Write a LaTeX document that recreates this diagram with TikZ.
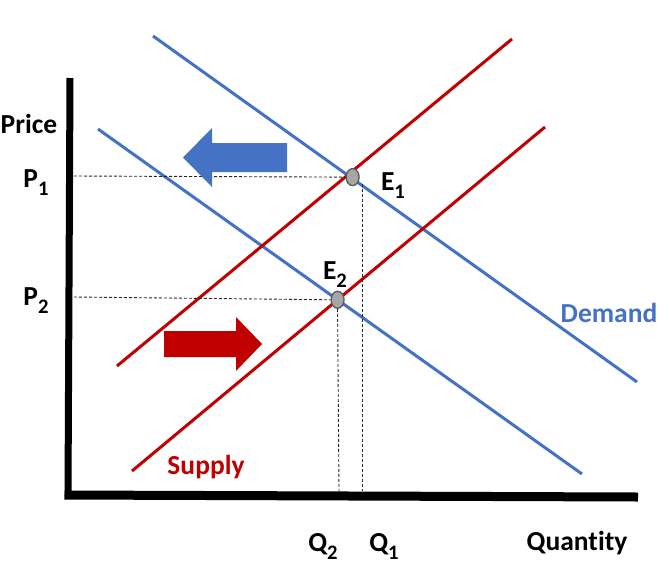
\documentclass[tikz,border=0pt]{standalone}
\usepackage{fontspec}
\setmainfont{Carlito}[Ligatures=NoCommon]
\usetikzlibrary{shapes.geometric,calc}
\definecolor{dblue}{HTML}{4472C4}
\definecolor{sred}{HTML}{C00000}
\newcommand\lowsub[1]{\raisebox{-0.3em}{\scalebox{0.75}{#1}}}
\tikzset{
  demandline/.style={draw=dblue,line width=3},
  supplyline/.style={draw=sred,line width=3},
  guide/.style={draw=black!85,line width=0.9,dash pattern=on 3 off 2},
  eqpoint/.style={ellipse,draw=black!65,fill=black!35,line width=1.3,minimum width=13,minimum height=17,inner sep=0},
  lbl/.style={font=\fontsize{27.5}{32}\selectfont\bfseries,anchor=base,inner sep=0},
  axisline/.style={draw=black}
}
\begin{document}
\begin{tikzpicture}[x=1pt,y=-1pt]
\useasboundingbox (0,0) rectangle (670,566);
% curve end points
\coordinate (d1a) at (153,36);
\coordinate (d1b) at (637,382);
\coordinate (d2a) at (98,129);
\coordinate (d2b) at (582,474);
\coordinate (s1a) at (117,366);
\coordinate (s1b) at (512,39);
\coordinate (s2a) at (132,471);
\coordinate (s2b) at (545,127);
\coordinate (I1) at (intersection of d1a--d1b and s1a--s1b);
\coordinate (I2) at (intersection of d2a--d2b and s2a--s2b);
% axes
\coordinate (ytop) at (70,78);
\coordinate (origin) at (68,496);
\coordinate (xend) at (638,497);
\draw[axisline,line width=7] (ytop) -- (origin);
\draw[axisline,line width=9] (64.5,495) -- (xend);
% curves
\draw[demandline] (d1a) -- (d1b);
\draw[demandline] (d2a) -- (d2b);
\draw[supplyline] (s1a) -- (s1b);
\draw[supplyline] (s2a) -- (s2b);
% equilibrium points
\node[eqpoint] (E1) at ($(I1)+(5,2)$) {};
\node[eqpoint] (E2) at (I2) {};
% guides
\coordinate (p1a) at (74,176);
\coordinate (p2a) at (74,297);
\coordinate (q1a) at (362,184);
\coordinate (q1b) at (362,491);
\coordinate (q2b) at (339,491);
\draw[guide] (p1a) -- (E1.west);
\draw[guide] (p2a) -- (E2.west);
\draw[guide] (q1a) -- (q1b);
\draw[guide] (E2.south) -- (q2b);
% shift arrows
\fill[dblue] (287,143) -- (212,143) -- (212,128) -- (183,157.5) -- (212,187) -- (212,172) -- (287,172) -- cycle;
\fill[sred] (164,331) -- (236,331) -- (236,317) -- (262,344) -- (236,371) -- (236,357) -- (164,357) -- cycle;
% labels
\node[lbl] (price) at (29,133) {Price};
\node[lbl] (P1) at (36,187) {P\lowsub{1}};
\node[lbl] (P2) at (36,305) {P\lowsub{2}};
\node[lbl] (E1l) at (393,190) {E\lowsub{1}};
\node[lbl] (E2l) at (335,279) {E\lowsub{2}};
\node[lbl,text=dblue] (dem) at (609,322) {Demand};
\node[lbl,text=sred] (sup) at (206,474) {Supply};
\node[lbl] (Q2) at (323,551) {Q\lowsub{2}};
\node[lbl] (Q1) at (384,551) {Q\lowsub{1}};
\node[lbl] (qty) at (577,550) {Quantity};
\end{tikzpicture}
\end{document}
